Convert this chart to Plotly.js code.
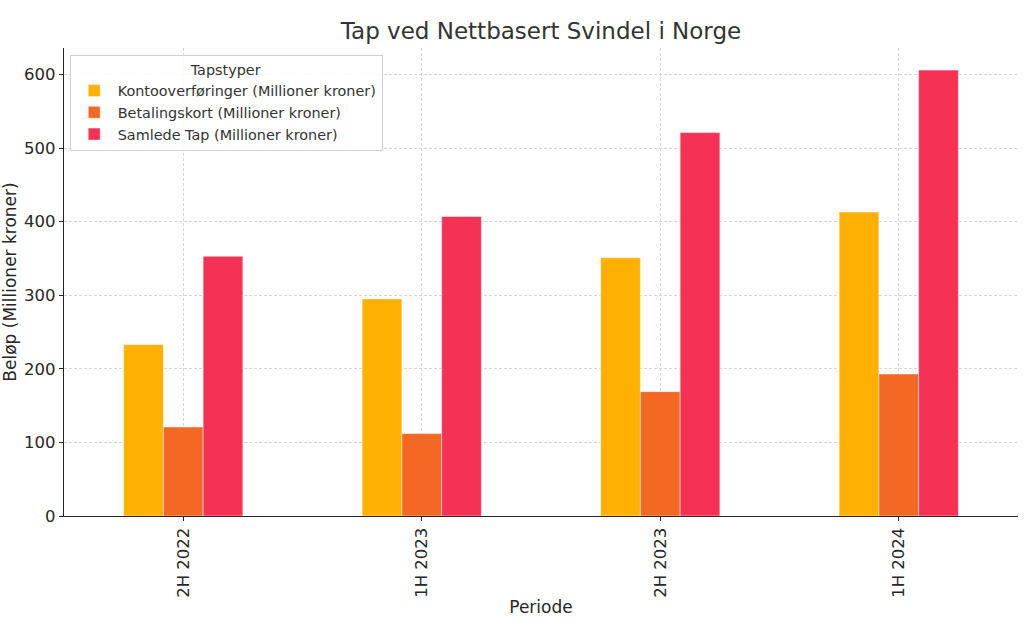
<!DOCTYPE html>
<html>
<head>
<meta charset="utf-8">
<script src="https://cdn.plot.ly/plotly-3.0.1.min.js"></script>
<style>html,body{margin:0;padding:0;background:#fff;}#chart{width:1024px;height:625px;}</style>
</head>
<body>
<div id="chart"></div>
<script>
const periods = ["2H 2022", "1H 2023", "2H 2023", "1H 2024"];
const kontoValues = [233, 295, 351, 413];
const betalingValues = [121, 112, 169, 193];
const samledeValues = [353, 407, 521, 606];
const seriesNames = [
  "Kontooverføringer (Millioner kroner)",
  "Betalingskort (Millioner kroner)",
  "Samlede Tap (Millioner kroner)"
];
const seriesColors = ["#FFB000", "#F36823", "#F53255"];
const yTicks = [0, 100, 200, 300, 400, 500, 600];

const allValues = [kontoValues, betalingValues, samledeValues];
const traces = allValues.map((vals, i) => ({
  type: "bar",
  x: periods,
  y: vals,
  name: seriesNames[i],
  marker: {color: seriesColors[i], line: {color: "rgba(255,255,255,0.6)", width: 0.8}},
  hoverinfo: "x+y+name"
}));

const textColor = "#262626";
const layout = {
  width: 1024,
  height: 625,
  paper_bgcolor: "#ffffff",
  plot_bgcolor: "#ffffff",
  font: {family: "DejaVu Sans, sans-serif", color: textColor, size: 14},
  margin: {l: 64, r: 6, t: 48, b: 109, pad: 0},
  title: {text: "Tap ved Nettbasert Svindel i Norge", font: {size: 23, color: "#333333"}, x: 0.5, xref: "paper", y: 0.950, yref: "container", yanchor: "middle"},
  barmode: "group",
  bargap: 0.5,
  bargroupgap: 0,
  xaxis: {
    type: "category",
    range: [-0.5, 3.5],
    tickangle: -90,
    showgrid: true,
    gridcolor: "#d6d6d6",
    griddash: "3px,2px",
    gridwidth: 1,
    showline: true,
    linecolor: "#262626",
    linewidth: 1.2,
    ticks: "outside",
    ticklen: 4,
    tickcolor: "#262626",
    tickfont: {size: 16.5, color: textColor},
    title: {text: "Periode", font: {size: 17, color: textColor}, standoff: 4},
    zeroline: false
  },
  yaxis: {
    range: [0, 636],
    tickvals: yTicks,
    ticktext: yTicks.map(String),
    showgrid: true,
    gridcolor: "#d6d6d6",
    griddash: "3px,2px",
    gridwidth: 1,
    showline: true,
    linecolor: "#262626",
    linewidth: 1.2,
    ticks: "outside",
    ticklen: 4,
    tickcolor: "#262626",
    tickfont: {size: 16.5, color: textColor},
    title: {text: "Beløp (Millioner kroner)", font: {size: 17, color: textColor}, standoff: 6},
    zeroline: false
  },
  legend: {
    x: 0.006, y: 0.985, xanchor: "left", yanchor: "top",
    bgcolor: "rgba(255,255,255,0.85)",
    bordercolor: "#d0d0d0",
    borderwidth: 1,
    font: {size: 14.4, color: "#333333"},
    title: {text: "Tapstyper", side: "top center", font: {size: 14.4, color: "#333333"}},
    tracegroupgap: 0,
    itemwidth: 37
  },
  showlegend: true
};

Plotly.newPlot("chart", traces, layout, {displayModeBar: false, responsive: false});
</script>
</body>
</html>
